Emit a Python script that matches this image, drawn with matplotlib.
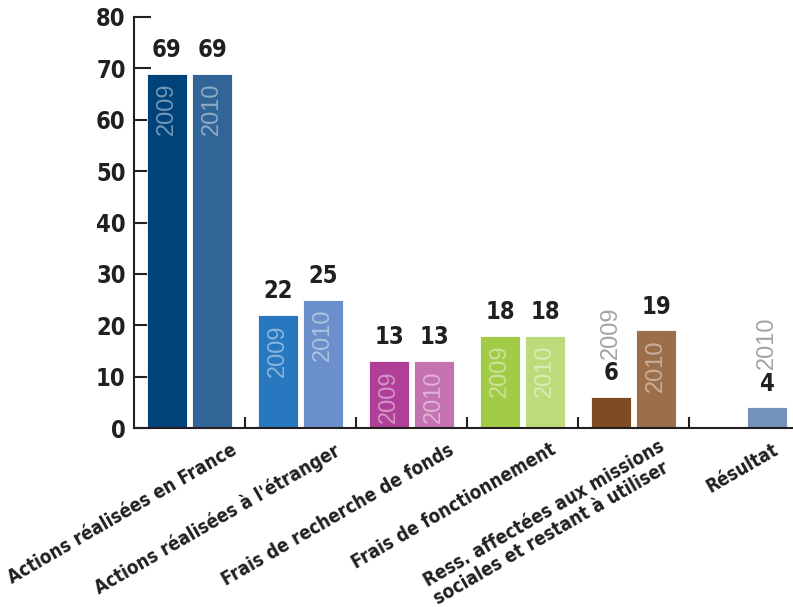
import os
import numpy as np
import matplotlib.pyplot as plt
from matplotlib import font_manager as fm
from matplotlib.transforms import blended_transform_factory

categories = [
    "Actions réalisées en France",
    "Actions réalisées à l'étranger",
    "Frais de recherche de fonds",
    "Frais de fonctionnement",
    "Ress. affectées aux missions\nsociales et restant à utiliser",
    "Résultat",
]
values_2009 = [69, 22, 13, 18, 6, None]
values_2010 = [69, 25, 13, 18, 19, 4]
colors_2009 = ["#00437b", "#2878c0", "#b03f98", "#a2cc48", "#7f4b22", None]
colors_2010 = ["#316598", "#6a8fcb", "#c472b0", "#bedb7c", "#9c6e4a", "#7592bc"]
y_ticks = [0, 10, 20, 30, 40, 50, 60, 70, 80]


def pick_font(names):
    # look for a narrow font file on the system, else fall back
    files = {os.path.basename(f.fname): f.fname for f in fm.fontManager.ttflist}
    for n in names:
        if n in files:
            return fm.FontProperties(fname=files[n])
    return None


fp_bold = pick_font(["LiberationSansNarrow-Bold.ttf", "DejaVuSansCondensed-Bold.ttf"])
if fp_bold is None:
    fp_bold = fm.FontProperties(family="Liberation Sans", weight="bold")

W, H = 793, 607
fig = plt.figure(figsize=(W / 100, H / 100), dpi=100)
ax = fig.add_axes([134 / W, (H - 428) / H, (W - 134) / W, (428 - 17) / H])

dark = "#231f20"
gray = "#a3a3a3"
bw, off = 0.36, 0.203


def fprop(base, size):
    p = base.copy()
    p.set_size(size)
    return p


def draw_bar(x, v, c, year):
    ax.bar(x, v, width=bw, color=c, edgecolor="white", linewidth=0.6, zorder=2)
    ax.text(x, v + 2.3, str(v), ha="center", va="bottom", color=dark,
            fontproperties=fprop(fp_bold, 17))
    if v >= 10:
        ax.text(x, v - 1.8, year, rotation=90, ha="center", va="top",
                fontsize=17, family="Liberation Sans", color="white", alpha=0.45)
    else:
        ax.text(x, v + 7.5, year, rotation=90, ha="center", va="bottom",
                fontsize=17, family="Liberation Sans", color=gray)


for i in range(len(categories)):
    if values_2009[i] is not None:
        draw_bar(i - off, values_2009[i], colors_2009[i], "2009")
    if values_2010[i] is not None:
        draw_bar(i + off, values_2010[i], colors_2010[i], "2010")

ax.set_xlim(-0.5, -0.5 + (W - 134) / 111)
ax.set_ylim(0, 80)
ax.spines[["top", "right"]].set_visible(False)
for s in ["left", "bottom"]:
    ax.spines[s].set_color(dark)
    ax.spines[s].set_linewidth(1.5)

ax.set_yticks(y_ticks)
ax.set_yticklabels([str(t) for t in y_ticks], color=dark)
for t in ax.get_yticklabels():
    t.set_fontproperties(fprop(fp_bold, 17))
ax.tick_params(axis="y", direction="in", length=12, width=1.5, color=dark, pad=6)
ax.set_xticks(np.arange(len(categories) - 1) + 0.5)
ax.set_xticklabels([])
ax.tick_params(axis="x", direction="in", length=8, width=1.5, color=dark)

trans = blended_transform_factory(ax.transData, ax.transAxes)
label_dx = [0.37, 0.3, 0.33, 0.24, 0.22, 0.25]
label_dy = [-0.03, -0.03, -0.03, -0.03, -0.022, -0.03]
for i, lab in enumerate(categories):
    ax.text(i + label_dx[i], label_dy[i], lab, transform=trans, rotation=30,
            rotation_mode="anchor", ha="right", va="top", color=dark,
            multialignment="left", linespacing=1.1,
            fontproperties=fprop(fp_bold, 13.5))

fig.savefig("out.png", dpi=100)
